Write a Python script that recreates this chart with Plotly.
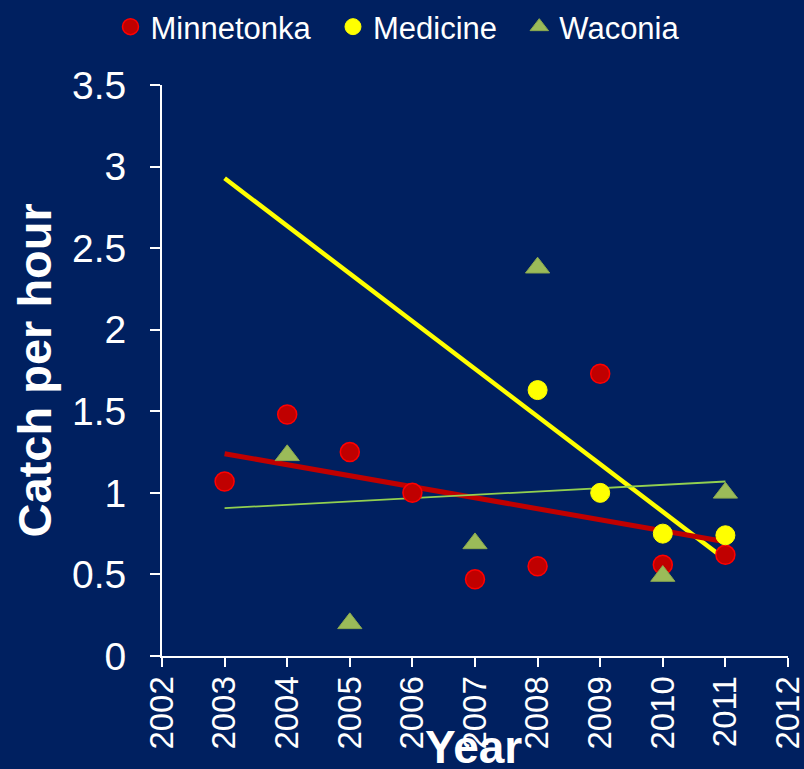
import numpy as np
import plotly.graph_objects as go

# catch per hour by lake and year
minnetonka_years = [2003, 2004, 2005, 2006, 2007, 2008, 2009, 2010, 2011]
minnetonka_cph = [1.07, 1.48, 1.25, 1.0, 0.47, 0.55, 1.73, 0.56, 0.62]

medicine_years = [2008, 2009, 2010, 2011]
medicine_cph = [1.63, 1.0, 0.75, 0.74]

waconia_years = [2004, 2005, 2007, 2008, 2010, 2011]
waconia_cph = [1.23, 0.2, 0.69, 2.38, 0.49, 1.0]

trend_years = [2003, 2011]

BG = '#002060'
FONT = 'Liberation Sans, Arial, sans-serif'


def trend(xs, ys):
    slope, icept = np.polyfit(xs, ys, 1)
    return [slope * x + icept for x in trend_years]


fig = go.Figure()

# linear trend lines (drawn first so markers sit above)
fig.add_trace(go.Scatter(x=trend_years, y=trend(medicine_years, medicine_cph), mode='lines',
                         line={'color': '#FFFF00', 'width': 4.5}, showlegend=False, hoverinfo='skip'))
fig.add_trace(go.Scatter(x=trend_years, y=trend(minnetonka_years, minnetonka_cph), mode='lines',
                         line={'color': '#C00000', 'width': 5}, showlegend=False, hoverinfo='skip'))
fig.add_trace(go.Scatter(x=trend_years, y=trend(waconia_years, waconia_cph), mode='lines',
                         line={'color': '#92D050', 'width': 1.8}, showlegend=False, hoverinfo='skip'))

fig.add_trace(go.Scatter(
    x=minnetonka_years, y=minnetonka_cph, mode='markers', name='Minnetonka  ',
    marker={'symbol': 'circle', 'size': 19, 'color': '#C00000', 'line': {'color': '#FF0000', 'width': 1.5}},
))
fig.add_trace(go.Scatter(
    x=medicine_years, y=medicine_cph, mode='markers', name='Medicine  ',
    marker={'symbol': 'circle', 'size': 19, 'color': '#FFFF00', 'line': {'color': '#FFFF00', 'width': 1}},
))
fig.add_trace(go.Scatter(
    x=waconia_years, y=waconia_cph, mode='markers', name='Waconia',
    marker={'symbol': 'triangle-up', 'size': 21, 'color': '#9BBB59', 'line': {'color': '#8AA84E', 'width': 1}},
))

fig.update_layout(
    width=804,
    height=769,
    paper_bgcolor=BG,
    plot_bgcolor=BG,
    font={'family': FONT, 'color': 'white'},
    margin={'l': 162, 'r': 16, 't': 85, 'b': 113},
    legend={
        'orientation': 'h', 'xref': 'container', 'x': 0.495, 'xanchor': 'center',
        'yref': 'container', 'y': 1.0, 'yanchor': 'top',
        'font': {'size': 31, 'color': 'white'}, 'itemwidth': 30,
        'bgcolor': 'rgba(0,0,0,0)', 'tracegroupgap': 0, 'borderwidth': 0,
    },
    xaxis={
        'range': [2002, 2012], 'dtick': 1, 'tick0': 2002,
        'showgrid': False, 'zeroline': False, 'automargin': False,
        'showline': True, 'linecolor': 'white', 'linewidth': 2,
        'ticks': 'outside', 'ticklen': 9, 'tickcolor': 'white', 'tickwidth': 2,
        'tickangle': -90, 'tickfont': {'size': 33},
        'ticklabeloverflow': 'allow', 'ticklabelstandoff': -4,
    },
    yaxis={
        'range': [0, 3.5], 'dtick': 0.5, 'tick0': 0,
        'showgrid': False, 'zeroline': False, 'automargin': False,
        'showline': True, 'linecolor': 'white', 'linewidth': 2,
        'ticks': 'outside', 'ticklen': 10, 'tickcolor': 'white', 'tickwidth': 2,
        'tickfont': {'size': 39}, 'ticklabelstandoff': 16,
    },
    annotations=[
        {'text': '<b>Year</b>', 'xref': 'paper', 'yref': 'paper', 'x': 0.497, 'y': -0.16,
         'xanchor': 'center', 'yanchor': 'middle', 'showarrow': False, 'font': {'size': 46}},
        {'text': '<b>Catch per hour</b>', 'xref': 'paper', 'yref': 'paper', 'x': -0.203, 'y': 0.5,
         'xanchor': 'center', 'yanchor': 'middle', 'textangle': -90, 'showarrow': False,
         'font': {'size': 47}},
    ],
)

fig.write_html('out.html', config={'displayModeBar': False},
               post_script="document.body.style.margin='0';")
